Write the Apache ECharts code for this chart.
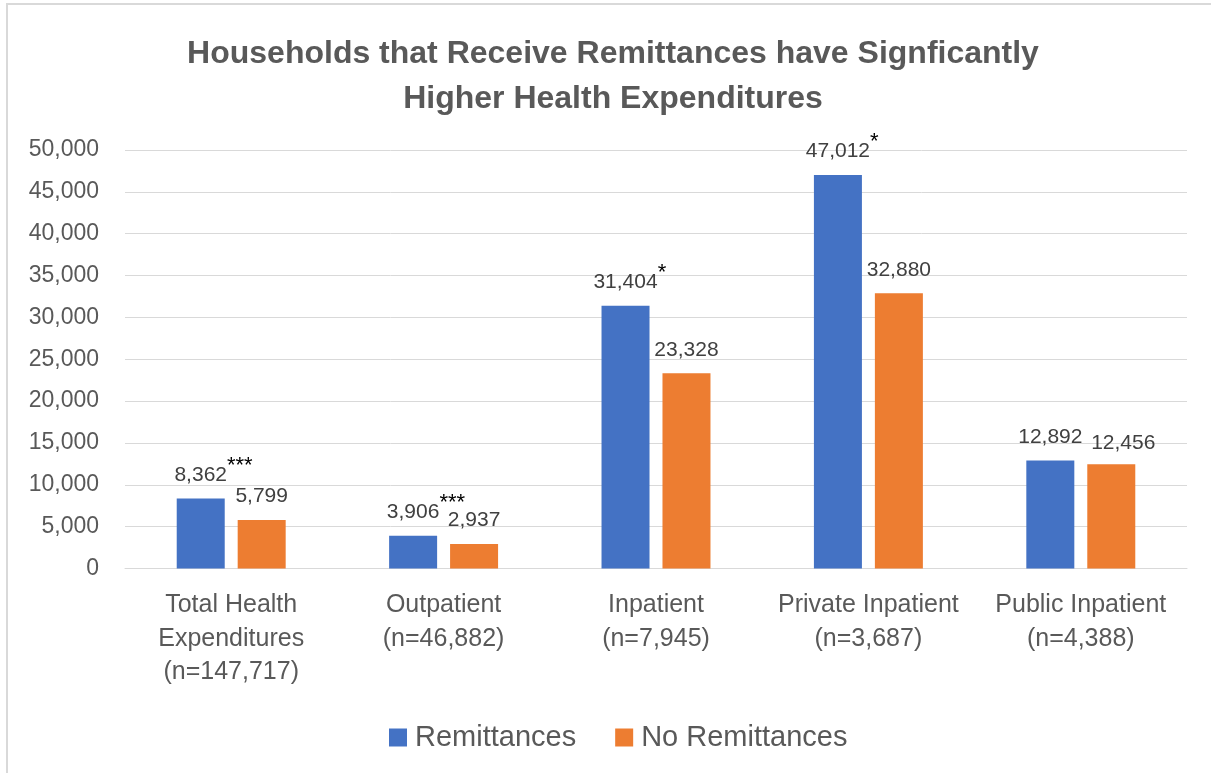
<!DOCTYPE html>
<html>
<head>
<meta charset="utf-8">
<title>Households that Receive Remittances have Signficantly Higher Health Expenditures</title>
<script src="https://cdn.jsdelivr.net/npm/echarts@6/dist/echarts.min.js"></script>
<style>
  html, body { margin: 0; padding: 0; background: #ffffff; }
  #chart { width: 1211px; height: 773px; }
</style>
</head>
<body>
<div id="chart"></div>
<script>
// Categories (with sample sizes) and mean health expenditures per group
const categories = [
  'Total Health\nExpenditures\n(n=147,717)',
  'Outpatient\n(n=46,882)',
  'Inpatient\n(n=7,945)',
  'Private Inpatient\n(n=3,687)',
  'Public Inpatient\n(n=4,388)'
];
const remittances = [8362, 3906, 31404, 47012, 12892];
const noRemittances = [5799, 2937, 23328, 32880, 12456];
// Significance stars shown next to the remittance values
const significance = ['***', '***', '*', '*', ''];
const seriesNames = ['Remittances', 'No Remittances'];
const yTicks = { min: 0, max: 50000, interval: 5000 };

const FONT = '"Liberation Sans", Arial, sans-serif';
const fmt = v => Number(v).toLocaleString('en-US');

const labelRich = {
  v: { fontSize: 21, lineHeight: 24, color: '#404040', fontFamily: FONT, verticalAlign: 'bottom' },
  s: { fontSize: 22, lineHeight: 24, color: '#000000', fontFamily: FONT, verticalAlign: 'bottom', padding: [0, 0, 9, 0] },
  pad: { fontSize: 22, lineHeight: 24, color: 'transparent', fontFamily: FONT, verticalAlign: 'bottom', padding: [0, 0, 9, 0] }
};

// Nudge the last orange label right so it does not collide with its neighbour
const noRemitData = noRemittances.map((v, i) =>
  i === noRemittances.length - 1 ? { value: v, label: { offset: [12, 2] } } : v
);

const chart = echarts.init(document.getElementById('chart'), null, { renderer: 'canvas' });

chart.setOption({
  backgroundColor: '#ffffff',
  animation: false,
  textStyle: { fontFamily: FONT },
  graphic: [{
    type: 'rect',
    shape: { x: 7, y: 4, width: 1400, height: 1000 },
    style: { fill: 'none', stroke: '#d9d9d9', lineWidth: 2 },
    silent: true,
    z: -10
  }],
  title: {
    text: 'Households that Receive Remittances have Signficantly\nHigher Health Expenditures',
    left: 608,
    textAlign: 'center',
    top: 27,
    textStyle: {
      fontFamily: FONT,
      fontSize: 32,
      fontWeight: 'bold',
      color: '#595959',
      lineHeight: 45
    }
  },
  legend: {
    data: seriesNames,
    left: 384,
    top: 718,
    itemWidth: 18,
    itemHeight: 18,
    itemGap: 39,
    icon: 'rect',
    textStyle: { fontFamily: FONT, fontSize: 29, color: '#595959', padding: [0, 0, 0, 3] }
  },
  grid: { left: 125, right: 24, top: 150, bottom: 204.5 },
  xAxis: {
    type: 'category',
    data: categories,
    axisLine: { show: true, lineStyle: { color: '#d9d9d9', width: 1 } },
    axisTick: { show: false },
    axisLabel: {
      fontFamily: FONT,
      fontSize: 25,
      color: '#595959',
      lineHeight: 33.5,
      margin: 20,
      interval: 0
    }
  },
  yAxis: {
    type: 'value',
    min: yTicks.min,
    max: yTicks.max,
    interval: yTicks.interval,
    axisLine: { show: false },
    axisTick: { show: false },
    splitLine: { lineStyle: { color: '#d9d9d9', width: 1 } },
    axisLabel: {
      fontFamily: FONT,
      fontSize: 23,
      color: '#595959',
      margin: 26,
      formatter: fmt
    }
  },
  series: [
    {
      name: seriesNames[0],
      type: 'bar',
      data: remittances,
      barWidth: 48,
      barGap: '27%',
      itemStyle: { color: '#4472c4' },
      label: {
        show: true,
        position: 'top',
        distance: 13,
        formatter: p => {
          const s = significance[p.dataIndex];
          const v = '{v|' + fmt(p.value) + '}';
          return s ? '{pad|' + s + '}' + v + '{s|' + s + '}' : v;
        },
        rich: labelRich
      }
    },
    {
      name: seriesNames[1],
      type: 'bar',
      data: noRemitData,
      barWidth: 48,
      itemStyle: { color: '#ed7d31' },
      label: {
        show: true,
        position: 'top',
        distance: 13,
        formatter: p => '{v|' + fmt(p.value) + '}',
        rich: labelRich
      }
    }
  ]
});
</script>
</body>
</html>
